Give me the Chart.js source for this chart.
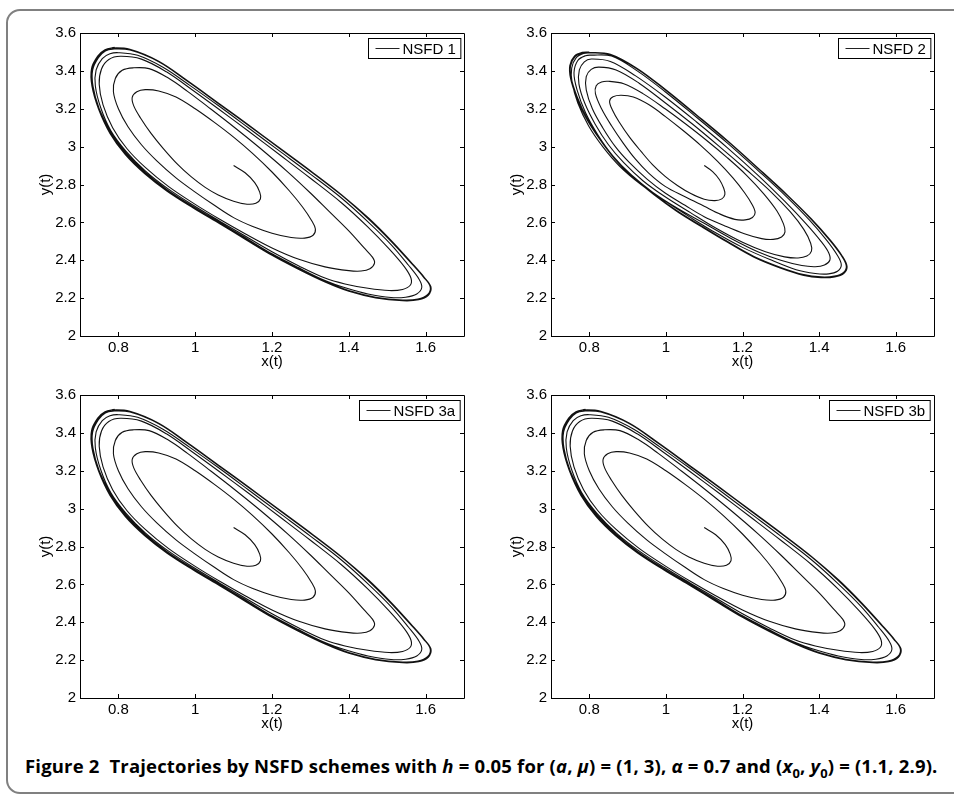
<!DOCTYPE html>
<html>
<head>
<meta charset="utf-8">
<script src="https://cdn.jsdelivr.net/npm/chart.js@4.4.1/dist/chart.umd.min.js"></script>
<style>
  body { margin: 0; background: #fff; width: 954px; height: 799px; overflow: hidden; position: relative; }
  .frame { position: absolute; left: 6px; top: 9px; width: 980px; height: 785px; border: 2px solid #808080; border-radius: 14px; box-sizing: border-box; }
  .panel { position: absolute; width: 470px; height: 372px; }
  .caption { position: absolute; left: 25px; top: 756px; line-height: 20px; font-family: "Open Sans", sans-serif; font-weight: 700; font-size: 18.5px; letter-spacing: 0.17px; white-space: nowrap; color: #000; }
  .caption sub { font-size: 0.7em; line-height: 0; }
</style>
</head>
<body>
<div class="frame"></div>
<div class="panel" style="left:0px; top:0px;"><canvas id="p1"></canvas></div>
<div class="panel" style="left:471px; top:0px;"><canvas id="p2"></canvas></div>
<div class="panel" style="left:0px; top:362px;"><canvas id="p3"></canvas></div>
<div class="panel" style="left:471px; top:362px;"><canvas id="p4"></canvas></div>
<div class="caption" id="caption">Figure 2&nbsp;&nbsp;Trajectories by NSFD schemes with <i>h</i> = 0.05 for (<i>a</i>, <i>μ</i>) = (1, 3), <i>α</i> = 0.7 and (<i>x</i><sub>0</sub>, <i>y</i><sub>0</sub>) = (1.1, 2.9).</div>

<script>
// axis ticks shared by all four panels
const xTicks = [0.8, 1, 1.2, 1.4, 1.6];
const yTicks = [2, 2.2, 2.4, 2.6, 2.8, 3, 3.2, 3.4, 3.6];
const labels = ['NSFD 1', 'NSFD 2', 'NSFD 3a', 'NSFD 3b'];

// NSFD 1 trajectory, (x, y), from (1.1, 2.9) spiralling out (clockwise on screen)
const nsfd1Path = [
    // first half turn
    [1.100,2.900],[1.130,2.862],[1.155,2.810],[1.168,2.760],[1.170,2.725],[1.158,2.701],[1.135,2.696],
    [1.100,2.712],[1.060,2.745],[1.026,2.785],[0.990,2.840],[0.955,2.905],[0.917,2.990],[0.885,3.070],
    [0.858,3.150],[0.840,3.215],[0.836,3.260],[0.848,3.290],[0.870,3.301],
    // 2nd turn
    [0.905,3.294],[0.950,3.262],[1.000,3.200],[1.050,3.128],[1.100,3.050],[1.150,2.963],[1.200,2.866],
    [1.245,2.767],[1.280,2.680],[1.303,2.610],[1.313,2.565],[1.307,2.532],[1.285,2.517],[1.250,2.520],
    [1.200,2.543],[1.150,2.578],[1.100,2.625],[1.050,2.690],[1.000,2.760],[0.950,2.835],[0.900,2.925],
    [0.860,3.010],[0.825,3.105],[0.800,3.200],[0.787,3.290],[0.792,3.360],[0.810,3.403],[0.838,3.416],
    // 3rd turn
    [0.880,3.412],[0.930,3.362],[0.980,3.292],[1.030,3.215],[1.100,3.105],[1.170,2.990],[1.240,2.868],
    [1.300,2.755],[1.350,2.655],[1.400,2.555],[1.440,2.465],[1.462,2.415],[1.467,2.385],[1.455,2.355],
    [1.432,2.343],[1.400,2.345],
    [1.338,2.365],[1.270,2.405],[1.200,2.465],[1.130,2.540],[1.065,2.615],[1.000,2.695],[0.930,2.790],
    [0.870,2.890],[0.822,2.990],[0.785,3.100],[0.760,3.220],[0.750,3.330],[0.756,3.410],[0.775,3.460],
    [0.805,3.477],
    // 4th turn
    [0.860,3.462],[0.925,3.395],[0.990,3.303],[1.060,3.200],[1.140,3.080],[1.220,2.957],[1.300,2.833],
    [1.380,2.705],[1.450,2.575],[1.505,2.460],[1.545,2.365],[1.562,2.305],[1.560,2.268],[1.540,2.246],
    [1.505,2.240],
    [1.450,2.252],[1.390,2.275],[1.338,2.306],[1.270,2.370],[1.200,2.445],[1.130,2.528],[1.065,2.605],
    [0.995,2.690],[0.926,2.782],[0.870,2.872],[0.820,2.975],[0.780,3.085],[0.754,3.205],[0.740,3.320],
    [0.742,3.405],[0.758,3.465],[0.778,3.490],[0.800,3.496],
    // 5th turn
    [0.850,3.482],[0.915,3.420],[0.985,3.325],[1.060,3.217],[1.140,3.097],[1.220,2.976],[1.300,2.855],
    [1.380,2.730],[1.450,2.603],[1.510,2.483],[1.555,2.375],[1.583,2.300],[1.590,2.256],[1.577,2.222],
    [1.548,2.205],[1.510,2.203],
    [1.450,2.222],[1.395,2.252],[1.338,2.293],[1.270,2.360],[1.200,2.434],[1.130,2.520],[1.065,2.598],
    [0.995,2.683],[0.926,2.774],[0.870,2.864],[0.820,2.966],[0.780,3.076],[0.750,3.200],[0.734,3.318],
    [0.733,3.405],[0.748,3.470],[0.766,3.505],[0.785,3.515],
    // settled cycle
    [0.830,3.510],[0.905,3.448],[0.980,3.345],[1.060,3.228],[1.140,3.110],[1.220,2.990],[1.300,2.870],
    [1.380,2.745],[1.450,2.620],[1.510,2.500],[1.560,2.390],[1.595,2.310],[1.612,2.260],[1.605,2.218],
    [1.580,2.195],[1.540,2.190],
    [1.470,2.205],[1.400,2.240],[1.338,2.289],[1.270,2.355],[1.200,2.430],[1.130,2.515],[1.065,2.595],
    [0.995,2.680],[0.926,2.770],[0.870,2.860],[0.820,2.960],[0.780,3.070],[0.750,3.200],[0.733,3.320],
    [0.732,3.410],[0.748,3.475],[0.765,3.508],[0.782,3.521],
    [0.830,3.514],[0.905,3.451],[0.980,3.348],[1.060,3.231],[1.140,3.113],[1.220,2.993],[1.300,2.873],
    [1.380,2.748],[1.452,2.622],[1.512,2.501],[1.562,2.390],[1.597,2.309],[1.614,2.259],[1.607,2.215],
    [1.582,2.191],[1.540,2.186],
    [1.470,2.201],[1.400,2.236],[1.338,2.285],[1.270,2.351],[1.200,2.426],[1.130,2.511],[1.065,2.591],
    [0.995,2.676],[0.926,2.766],[0.868,2.858],[0.818,2.958],[0.778,3.070],[0.748,3.200],[0.731,3.320],
    [0.730,3.412],[0.746,3.478],[0.765,3.512],[0.790,3.524]
];

// NSFD 2 winds tighter, with more turns before it settles
const nsfd2Path = [
    [1.100,2.900],[1.122,2.868],[1.140,2.825],[1.151,2.780],[1.154,2.748],[1.146,2.724],[1.128,2.715],
    [1.100,2.722],[1.065,2.752],[1.030,2.795],[0.998,2.843],[0.965,2.905],[0.935,2.975],[0.905,3.050],
    [0.878,3.130],[0.860,3.195],[0.853,3.240],[0.862,3.263],[0.883,3.271],
    [0.915,3.262],[0.955,3.222],[0.998,3.160],[1.045,3.085],[1.090,3.008],[1.135,2.922],[1.175,2.835],
    [1.205,2.758],[1.225,2.695],[1.233,2.652],[1.226,2.626],[1.207,2.613],[1.180,2.616],
    [1.140,2.645],[1.100,2.685],[1.050,2.735],[0.998,2.790],[0.955,2.860],[0.920,2.935],[0.888,3.020],
    [0.858,3.110],[0.832,3.200],[0.816,3.280],[0.818,3.322],[0.832,3.341],[0.850,3.345],
    [0.890,3.332],[0.940,3.280],[0.998,3.200],[1.050,3.122],[1.105,3.035],[1.160,2.942],[1.210,2.850],
    [1.255,2.752],[1.290,2.660],[1.307,2.592],[1.311,2.550],[1.302,2.523],[1.280,2.510],[1.250,2.514],
    [1.205,2.540],[1.150,2.585],[1.100,2.630],[1.050,2.690],[0.998,2.755],[0.950,2.830],[0.905,2.915],
    [0.868,3.000],[0.835,3.100],[0.808,3.200],[0.792,3.300],[0.792,3.370],[0.805,3.408],[0.825,3.420],
    [0.870,3.405],[0.930,3.335],[0.998,3.232],[1.070,3.118],[1.140,3.000],[1.210,2.878],[1.275,2.760],
    [1.325,2.655],[1.360,2.563],[1.378,2.490],[1.380,2.448],[1.368,2.422],[1.345,2.412],[1.310,2.418],
    [1.260,2.445],[1.200,2.495],[1.130,2.570],[1.065,2.650],[0.998,2.735],[0.940,2.820],[0.890,2.915],
    [0.850,3.010],[0.815,3.120],[0.788,3.230],[0.773,3.330],[0.774,3.405],[0.787,3.448],[0.805,3.463],
    [0.855,3.450],[0.920,3.375],[0.998,3.262],[1.080,3.130],[1.160,2.995],[1.240,2.850],[1.310,2.712],
    [1.365,2.595],[1.405,2.500],[1.425,2.440],[1.428,2.400],[1.414,2.375],[1.390,2.366],[1.355,2.372],
    [1.300,2.400],[1.240,2.445],[1.170,2.515],[1.100,2.595],[1.030,2.675],[0.965,2.760],[0.910,2.850],
    [0.862,2.950],[0.823,3.060],[0.790,3.180],[0.768,3.300],[0.760,3.390],[0.770,3.455],[0.790,3.480],
    [0.805,3.483],
    [0.858,3.478],[0.925,3.400],[0.998,3.290],[1.080,3.155],[1.160,3.020],[1.240,2.875],[1.315,2.735],
    [1.375,2.612],[1.420,2.505],[1.448,2.425],[1.458,2.375],[1.448,2.342],[1.425,2.328],[1.390,2.330],
    [1.340,2.350],[1.270,2.405],[1.200,2.468],[1.130,2.545],[1.065,2.625],[0.998,2.712],[0.935,2.800],
    [0.880,2.895],[0.835,3.000],[0.798,3.110],[0.770,3.230],[0.755,3.340],[0.754,3.415],[0.766,3.470],
    [0.785,3.492],[0.800,3.495],
    [0.855,3.485],[0.925,3.410],[0.998,3.300],[1.080,3.165],[1.160,3.030],[1.240,2.885],[1.318,2.740],
    [1.380,2.615],[1.428,2.505],[1.458,2.425],[1.471,2.370],[1.463,2.334],[1.440,2.316],[1.405,2.312],
    [1.360,2.324],[1.300,2.362],[1.230,2.420],[1.160,2.500],[1.090,2.585],[1.030,2.660],[0.970,2.748],
    [0.915,2.840],[0.868,2.935],[0.828,3.040],[0.794,3.150],[0.768,3.265],[0.753,3.360],[0.751,3.425],
    [0.763,3.475],[0.782,3.494],[0.798,3.497],
    [0.855,3.488],[0.925,3.413],[0.998,3.303],[1.080,3.168],[1.160,3.033],[1.240,2.888],[1.318,2.743],
    [1.380,2.618],[1.430,2.505],[1.460,2.424],[1.473,2.368],[1.465,2.331],[1.441,2.312],[1.405,2.308],
    [1.360,2.320],[1.300,2.358],[1.230,2.416],[1.160,2.496],[1.090,2.581],[1.030,2.656],[0.970,2.744],
    [0.915,2.836],[0.868,2.931],[0.828,3.036],[0.792,3.150],[0.766,3.265],[0.751,3.360],[0.749,3.428],
    [0.761,3.478],[0.782,3.498],[0.800,3.500]
];

// 3a and 3b come out the same as NSFD 1 at this scale
const nsfd3aPath = nsfd1Path;
const nsfd3bPath = nsfd1Path;

const tickFont = { family: '"Liberation Sans", Arial, sans-serif', size: 15 };

const boxAndLegend = {
    id: 'boxAndLegend',
    afterDatasetsDraw(chart) {
        const { ctx, chartArea: a, scales: { x, y } } = chart;
        ctx.save();
        ctx.strokeStyle = '#000';
        ctx.lineWidth = 1;
        ctx.beginPath();
        ctx.rect(Math.round(a.left) + 0.5, Math.round(a.top) + 0.5, Math.round(a.width), Math.round(a.height));
        xTicks.forEach(v => {
            const px = Math.round(x.getPixelForValue(v)) + 0.5;
            ctx.moveTo(px, a.bottom); ctx.lineTo(px, a.bottom - 4);
            ctx.moveTo(px, a.top); ctx.lineTo(px, a.top + 4);
        });
        yTicks.forEach(v => {
            const py = Math.round(y.getPixelForValue(v)) + 0.5;
            ctx.moveTo(a.left, py); ctx.lineTo(a.left + 4, py);
            ctx.moveTo(a.right, py); ctx.lineTo(a.right - 4, py);
        });
        ctx.stroke();

        // legend box in the top right corner
        const label = chart.data.datasets[0].label;
        ctx.font = '15px "Liberation Sans", Arial, sans-serif';
        const tw = ctx.measureText(label).width;
        const w = 7 + 24 + 3 + tw + 5;
        const h = 20;
        const bx = Math.round(a.right - 4 - w) + 0.5;
        const by = Math.round(a.top + 5) + 0.5;
        ctx.fillStyle = '#fff';
        ctx.fillRect(bx, by, w, h);
        ctx.strokeRect(bx, by, w, h);
        ctx.beginPath();
        ctx.moveTo(bx + 7, by + h / 2);
        ctx.lineTo(bx + 31, by + h / 2);
        ctx.strokeStyle = '#222';
        ctx.stroke();
        ctx.fillStyle = '#000';
        ctx.textBaseline = 'middle';
        ctx.fillText(label, bx + 34, by + h / 2 + 1);
        ctx.restore();
    }
};

function makePanel(id, label, path, pad) {
    new Chart(document.getElementById(id), {
        type: 'scatter',
        data: {
            datasets: [{
                label: label,
                data: path.map(p => ({ x: p[0], y: p[1] })),
                showLine: true,
                borderColor: '#111',
                borderWidth: 1.1,
                pointRadius: 0,
                tension: 0.35,
                fill: false
            }]
        },
        options: {
            responsive: false,
            animation: false,
            layout: { padding: { left: 0, top: pad.top, right: pad.right, bottom: 0 } },
            plugins: { legend: { display: false }, tooltip: { enabled: false } },
            scales: {
                x: {
                    type: 'linear',
                    min: 0.7,
                    max: 1.7,
                    afterBuildTicks: s => { s.ticks = xTicks.map(v => ({ value: v })); },
                    afterFit: s => { s.height = 36; },
                    grid: { display: false, drawTicks: false },
                    border: { display: false },
                    ticks: { color: '#000', font: tickFont, padding: 3, maxRotation: 0, callback: v => String(v) },
                    title: { display: true, text: 'x(t)', color: '#000', font: tickFont, padding: { top: 0, bottom: 1 } }
                },
                y: {
                    type: 'linear',
                    min: 2,
                    max: 3.6,
                    afterBuildTicks: s => { s.ticks = yTicks.map(v => ({ value: v })); },
                    afterFit: s => { s.width = pad.left; },
                    grid: { display: false, drawTicks: false },
                    border: { display: false },
                    ticks: { color: '#000', font: tickFont, padding: 4, callback: v => String(v) },
                    title: { display: true, text: 'y(t)', color: '#000', font: tickFont, padding: { top: 37, bottom: 0 } }
                }
            }
        },
        plugins: [boxAndLegend]
    });
}

['p1', 'p2', 'p3', 'p4'].forEach(id => {
    const c = document.getElementById(id);
    c.width = 470; c.height = 372;
});

makePanel('p1', labels[0], nsfd1Path, { left: 80, top: 33, right: 6 });
makePanel('p2', labels[1], nsfd2Path, { left: 80, top: 33, right: 7 });
makePanel('p3', labels[2], nsfd3aPath, { left: 80, top: 33, right: 6 });
makePanel('p4', labels[3], nsfd3bPath, { left: 80, top: 33, right: 7 });
</script>
</body>
</html>
